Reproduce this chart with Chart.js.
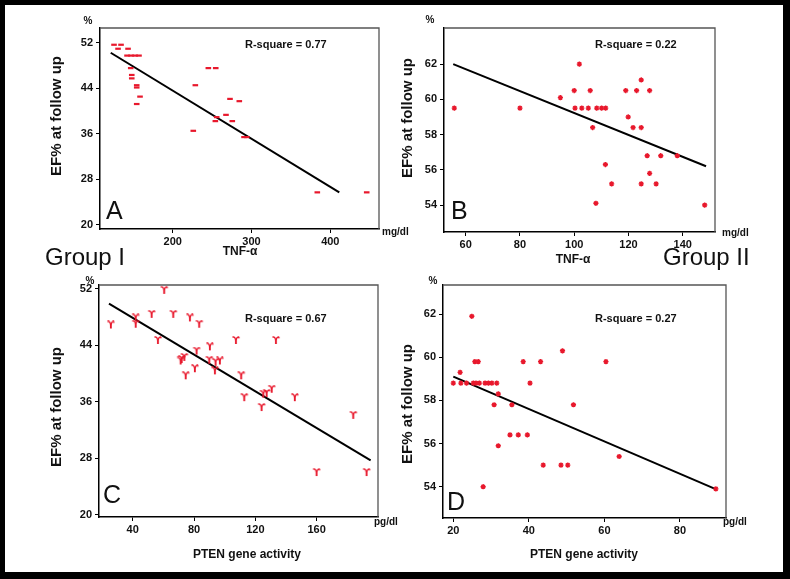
<!DOCTYPE html>
<html>
<head>
<meta charset="utf-8">
<script src="https://cdn.jsdelivr.net/npm/chart.js@4.4.1/dist/chart.umd.min.js"></script>
<style>
  html, body { margin: 0; padding: 0; background: #fff; }
  #wrap { position: relative; width: 790px; height: 579px; overflow: hidden; }
  #frame { position: absolute; left: 0; top: 0; width: 790px; height: 579px; box-sizing: border-box;
           border-style: solid; border-color: #000; border-width: 5px 7px 7px 5px; }
  canvas { position: absolute; left: 0; top: 0; }
</style>
</head>
<body>
<div id="wrap">
  <div id="frame"></div>
  <canvas id="chartA" width="790" height="579"></canvas>
  <canvas id="chartB" width="790" height="579"></canvas>
  <canvas id="chartC" width="790" height="579"></canvas>
  <canvas id="chartD" width="790" height="579"></canvas>
</div>
<script>
// Panel A: group I, TNF-alpha (mg/dl) vs EF% at follow up
const aTnf = [125.5, 134.4, 130.6, 143.3, 142.0, 147.1, 152.2, 157.2, 146.7, 148.0, 148.0, 154.3, 154.3, 158.5, 154.3,
              228.7, 245.2, 254.6, 226.1, 272.7, 284.5, 267.6, 255.8, 254.1, 275.6, 290.5, 293.9, 383.5, 446.2];
const aEf  = [51.6, 51.6, 50.9, 50.9, 49.7, 49.7, 49.7, 49.7, 47.5, 46.3, 45.7, 44.5, 44.1, 42.5, 41.2,
              44.5, 47.5, 47.5, 36.5, 42.1, 41.7, 39.3, 38.9, 38.2, 38.2, 35.4, 35.4, 25.7, 25.7];
const aFitX = [121.3, 411.4];
const aFitY = [50.2, 25.7];
const aXTicks = [200, 300, 400];
const aYTicks = [20, 28, 36, 44, 52];

// Panel B: group II, TNF-alpha (mg/dl) vs EF%
const bTnf = [55.8, 80.0, 101.9, 124.7, 100.0, 105.9, 119.0, 123.0, 127.8, 94.9, 100.3, 102.8, 105.2, 108.3, 110.1,
              111.6, 119.9, 106.8, 121.7, 124.7, 126.9, 131.9, 138.0, 111.5, 127.8, 113.8, 124.7, 130.2, 108.0, 148.1];
const bEf  = [59.5, 59.5, 62.0, 61.1, 60.5, 60.5, 60.5, 60.5, 60.5, 60.1, 59.5, 59.5, 59.5, 59.5, 59.5,
              59.5, 59.0, 58.4, 58.4, 58.4, 56.8, 56.8, 56.8, 56.3, 55.8, 55.2, 55.2, 55.2, 54.1, 54.0];
const bFitX = [55.4, 148.6];
const bFitY = [62.0, 56.2];
const bXTicks = [60, 80, 100, 120, 140];
const bYTicks = [54, 56, 58, 60, 62];

// Panel C: group I, PTEN gene activity (pg/dl) vs EF%
const cPten = [60.6, 25.8, 42.0, 42.0, 52.4, 66.5, 77.4, 83.4, 56.5, 107.4, 133.5, 90.4, 81.7, 73.7, 72.0, 71.3,
               90.0, 96.9, 94.1, 80.6, 74.6, 93.7, 110.8, 130.7, 127.4, 125.2, 112.8, 145.8, 124.1, 183.9, 160.0, 192.6];
const cEf  = [51.7, 46.8, 47.8, 46.9, 48.3, 48.3, 47.8, 46.9, 44.6, 44.6, 44.6, 43.7, 43.1, 42.2, 41.9, 41.7,
              41.8, 41.7, 41.5, 40.6, 39.6, 40.3, 39.6, 37.7, 37.1, 37.0, 36.5, 36.5, 35.1, 34.0, 25.9, 25.9];
const cFitX = [24.5, 195.2];
const cFitY = [49.9, 27.7];
const cXTicks = [40, 80, 120, 160];
const cYTicks = [20, 28, 36, 44, 52];

// Panel D: group II, PTEN gene activity (pg/dl) vs EF%
const dPten = [20.0, 21.8, 22.0, 24.9, 25.7, 26.6, 23.5, 25.3, 26.0, 26.9, 28.4, 29.3, 30.2, 31.5, 31.9, 30.8, 35.5,
               31.9, 35.0, 37.2, 39.6, 27.9, 38.5, 40.3, 43.1, 48.9, 60.4, 51.8, 43.8, 48.5, 50.3, 63.9, 89.5];
const dEf  = [58.8, 59.3, 58.8, 61.9, 59.8, 59.8, 58.8, 58.8, 58.8, 58.8, 58.8, 58.8, 58.8, 58.8, 58.3, 57.8, 57.8,
              55.9, 56.4, 56.4, 56.4, 54.0, 59.8, 58.8, 59.8, 60.3, 59.8, 57.8, 55.0, 55.0, 55.0, 55.4, 53.9];
const dFitX = [20.0, 89.3];
const dFitY = [59.1, 53.9];
const dXTicks = [20, 40, 60, 80];
const dYTicks = [54, 56, 58, 60, 62];

const FONT = "'Liberation Sans', Arial, sans-serif";
const RED = '#e8182c';
const Y_W = 40, X_H = 30;

function pts(xs, ys) {
    return xs.map((x, i) => ({ x: x, y: ys[i] }));
}

// little ram's-horn glyph used as marker in panel C
function hornMarker() {
    const c = document.createElement('canvas');
    c.width = 10; c.height = 10;
    const g = c.getContext('2d');
    g.fillStyle = RED;
    g.font = 'bold 10px "DejaVu Sans"';
    g.textAlign = 'center';
    g.textBaseline = 'middle';
    g.fillText('\u03D2', 5, 5);
    return c;
}

const notesPlugin = {
    id: 'notes',
    afterDraw(chart, args, opts) {
        const ctx = chart.ctx;
        const a = chart.chartArea;
        ctx.save();
        // top / right edges of the plot box
        ctx.strokeStyle = '#555';
        ctx.lineWidth = 1.3;
        ctx.beginPath();
        ctx.moveTo(a.left, a.top);
        ctx.lineTo(a.right, a.top);
        ctx.lineTo(a.right, a.bottom);
        ctx.stroke();
        (opts.items || []).forEach(it => {
            ctx.save();
            ctx.fillStyle = it.color || '#111';
            ctx.font = it.font;
            ctx.textAlign = it.align || 'left';
            ctx.textBaseline = 'middle';
            ctx.translate(it.x, it.y);
            if (it.rotate) ctx.rotate(it.rotate);
            ctx.fillText(it.text, 0, 0);
            ctx.restore();
        });
        ctx.restore();
    }
};

function makePanel(id, p) {
    const tickFont = { family: FONT, size: 11, weight: 'bold' };
    const axisCommon = {
        type: 'linear',
        grid: { display: true, drawOnChartArea: false, drawTicks: true, tickLength: 4, color: '#000', lineWidth: 1 },
        border: { display: true, color: '#000', width: 1.5 }
    };
    new Chart(document.getElementById(id), {
        type: 'scatter',
        data: {
            datasets: [{
                data: pts(p.x, p.y),
                pointStyle: p.marker,
                pointRadius: p.radius,
                borderColor: RED,
                backgroundColor: RED,
                pointBorderWidth: p.markerWidth
            }, {
                data: pts(p.fitX, p.fitY),
                showLine: true,
                pointRadius: 0,
                borderColor: '#000',
                borderWidth: 2
            }]
        },
        options: {
            responsive: false,
            animation: false,
            events: [],
            layout: {
                padding: { left: p.area[0] - Y_W, top: p.area[1], right: 790 - p.area[2], bottom: 579 - p.area[3] - X_H }
            },
            scales: {
                x: Object.assign({}, axisCommon, {
                    min: p.xRange[0], max: p.xRange[1],
                    afterBuildTicks: s => { s.ticks = p.xTicks.map(v => ({ value: v })); },
                    afterFit: s => { s.height = X_H; },
                    ticks: { color: '#111', font: tickFont, padding: 2, maxRotation: 0 }
                }),
                y: Object.assign({}, axisCommon, {
                    min: p.yRange[0], max: p.yRange[1],
                    afterBuildTicks: s => { s.ticks = p.yTicks.map(v => ({ value: v })); },
                    afterFit: s => { s.width = Y_W; },
                    ticks: { color: '#111', font: tickFont, padding: 3 }
                })
            },
            plugins: {
                legend: { display: false },
                tooltip: { enabled: false },
                notes: { items: p.notes }
            }
        },
        plugins: [notesPlugin]
    });
}

const bold = s => 'bold ' + s + 'px ' + FONT;
const plain = s => s + 'px ' + FONT;
const UP = -Math.PI / 2;

makePanel('chartA', {
    x: aTnf, y: aEf, fitX: aFitX, fitY: aFitY, xTicks: aXTicks, yTicks: aYTicks,
    marker: 'line', radius: 2.8, markerWidth: 2.2,
    area: [100, 28, 379, 229], xRange: [107.7, 461.8], yRange: [19.27, 54.54],
    notes: [
        { text: '%', x: 88, y: 21, font: bold(10), align: 'center' },
        { text: 'EF% at follow up', x: 57, y: 116, font: bold(15), align: 'center', rotate: UP },
        { text: 'R-square = 0.77', x: 245, y: 45, font: bold(11) },
        { text: 'A', x: 106, y: 212, font: plain(25) },
        { text: 'mg/dl', x: 382, y: 232, font: bold(10) },
        { text: 'TNF-\u03B1', x: 240, y: 252, font: bold(12), align: 'center' },
        { text: 'Group I', x: 45, y: 258, font: plain(24) }
    ]
});

makePanel('chartB', {
    x: bTnf, y: bEf, fitX: bFitX, fitY: bFitY, xTicks: bXTicks, yTicks: bYTicks,
    marker: 'star', radius: 2.6, markerWidth: 1.4,
    area: [444, 28, 715, 232], xRange: [52.0, 151.9], yRange: [52.47, 64.05],
    notes: [
        { text: '%', x: 430, y: 20, font: bold(10), align: 'center' },
        { text: 'EF% at follow up', x: 408, y: 118, font: bold(15), align: 'center', rotate: UP },
        { text: 'R-square = 0.22', x: 595, y: 45, font: bold(11) },
        { text: 'B', x: 451, y: 212, font: plain(25) },
        { text: 'mg/dl', x: 722, y: 233, font: bold(10) },
        { text: 'TNF-\u03B1', x: 573, y: 260, font: bold(12), align: 'center' },
        { text: 'Group II', x: 663, y: 258, font: plain(24) }
    ]
});

makePanel('chartC', {
    x: cPten, y: cEf, fitX: cFitX, fitY: cFitY, xTicks: cXTicks, yTicks: cYTicks,
    marker: hornMarker(), radius: 4, markerWidth: 1,
    area: [99, 285, 378, 517], xRange: [18.0, 200.0], yRange: [19.67, 52.53],
    notes: [
        { text: '%', x: 90, y: 281, font: bold(10), align: 'center' },
        { text: 'EF% at follow up', x: 57, y: 407, font: bold(15), align: 'center', rotate: UP },
        { text: 'R-square = 0.67', x: 245, y: 319, font: bold(11) },
        { text: 'C', x: 103, y: 496, font: plain(25) },
        { text: 'pg/dl', x: 374, y: 522, font: bold(10) },
        { text: 'PTEN gene activity', x: 247, y: 555, font: bold(12), align: 'center' }
    ]
});

makePanel('chartD', {
    x: dPten, y: dEf, fitX: dFitX, fitY: dFitY, xTicks: dXTicks, yTicks: dYTicks,
    marker: 'star', radius: 2.6, markerWidth: 1.4,
    area: [443, 285, 726, 518], xRange: [17.27, 92.18], yRange: [52.55, 63.35],
    notes: [
        { text: '%', x: 433, y: 281, font: bold(10), align: 'center' },
        { text: 'EF% at follow up', x: 408, y: 404, font: bold(15), align: 'center', rotate: UP },
        { text: 'R-square = 0.27', x: 595, y: 319, font: bold(11) },
        { text: 'D', x: 447, y: 503, font: plain(25) },
        { text: 'pg/dl', x: 723, y: 522, font: bold(10) },
        { text: 'PTEN gene activity', x: 584, y: 555, font: bold(12), align: 'center' }
    ]
});
</script>
</body>
</html>
